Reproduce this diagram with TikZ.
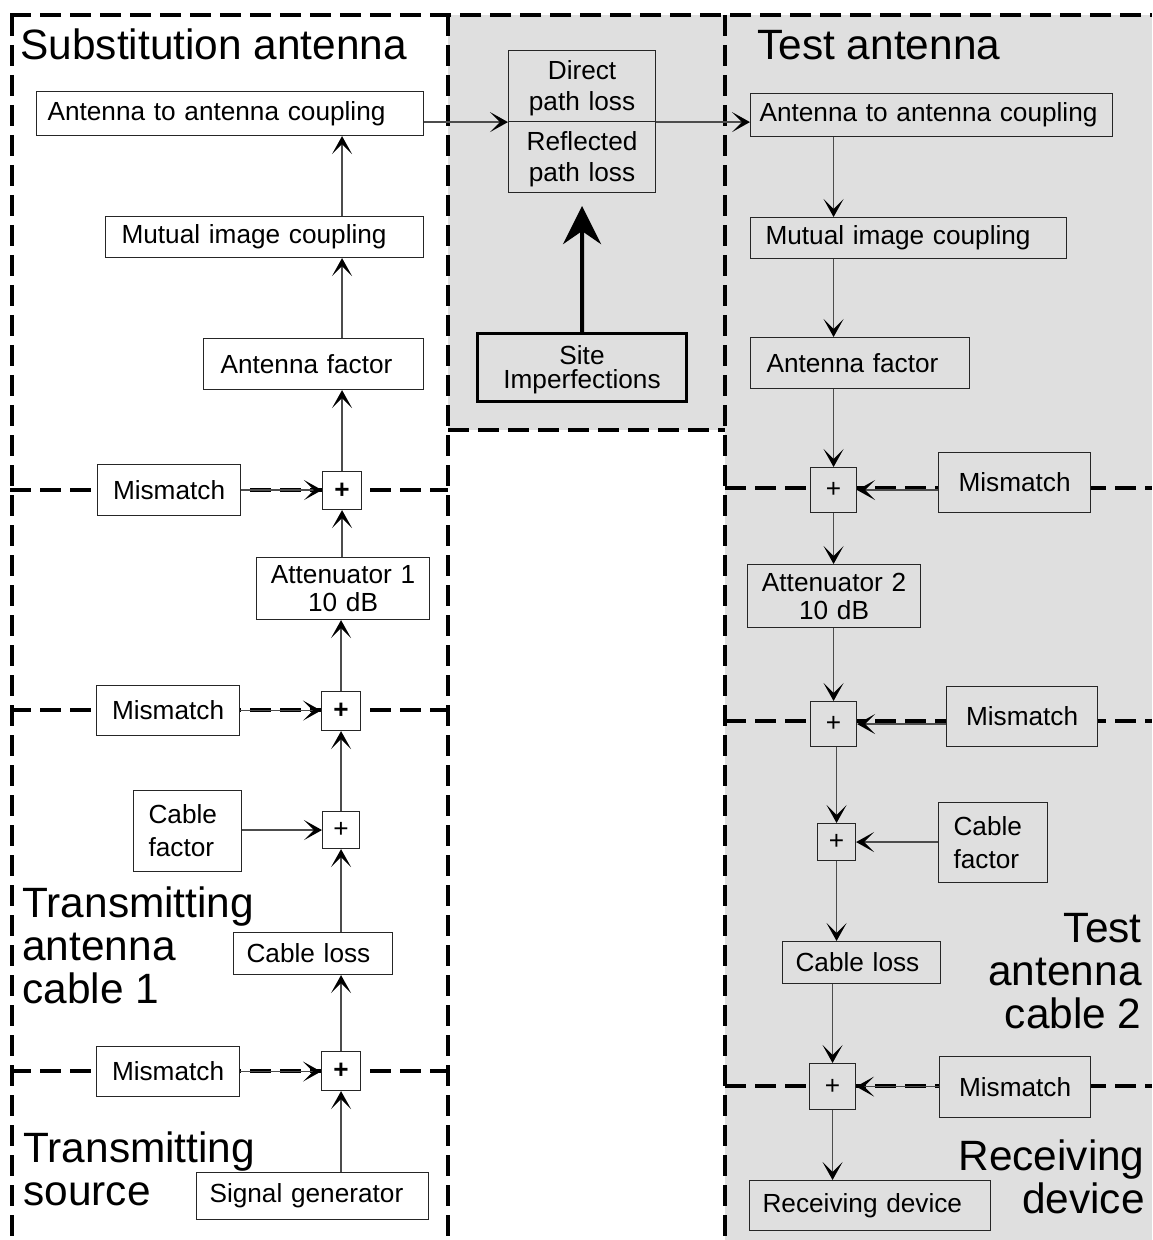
\documentclass[tikz,border=0pt]{standalone}
\usepackage{fontspec}
\setmainfont{Liberation Sans}
\usetikzlibrary{arrows.meta}
\begin{document}
\begin{tikzpicture}[x=0.5pt,y=-0.5pt,
  bx/.style={draw=black!85, line width=0.55pt, rectangle, anchor=north west, inner ysep=0pt, font=\fontsize{13.1}{15.5}\selectfont, align=left},
  ctr/.style={align=center},
  pl/.style={draw=black!85, line width=0.55pt, rectangle, anchor=north west, inner sep=0pt, font=\fontsize{13.1}{15.5}\selectfont},
  big/.style={inner sep=0pt, font=\fontsize{21.2}{21.5}\selectfont},
  dsh/.style={line width=2pt, dash pattern=on 10.5pt off 4.5pt},
  arr/.style={draw=black!70, line width=0.6pt, -{Stealth[length=9pt,width=10pt,inset=5pt,color=black,line width=0.9pt]}},
  bigarr/.style={draw=black, line width=2pt, -{Stealth[length=19pt,width=19pt,inset=6.5pt]}},
  lw/.style={fill=white},
  gr/.style={fill=gray!25}
]
\useasboundingbox (0,0) rectangle (1152,1240);
% backgrounds
\fill[gray!25] (448,15) rectangle (1152,430);
\fill[gray!25] (725,15) rectangle (1152,1240);
% dashed borders
\draw[dsh] (10,15) -- (1152,15);
\draw[dsh] (12,15) -- (12,1240);
\draw[dsh] (448,15) -- (448,1240);
\draw[dsh] (725,15) -- (725,1240);
\draw[dsh] (448,430) -- (725,430);
\draw[dsh] (10,490) -- (448,490);
\draw[dsh] (10,710) -- (448,710);
\draw[dsh] (10,1071) -- (448,1071);
\draw[dsh] (725,488) -- (1152,488);
\draw[dsh] (725,721) -- (1152,721);
\draw[dsh] (725,1086) -- (1152,1086);

% big labels
\node[big, anchor=base west] (tSub) at (20,60) {Substitution antenna};
\node[big, anchor=base west] (tTest) at (757,60) {Test antenna};
\node[big, anchor=base west, align=left] (tTAC) at (22,1003) {Transmitting\\antenna\\cable 1};
\node[big, anchor=base west, align=left] (tTS) at (23,1205) {Transmitting\\source};
\node[big, anchor=base east, align=right] (tTAC2) at (1142,1028) {Test\\antenna\\cable 2};
\node[big, anchor=base east, align=right] (tRD) at (1145,1213) {Receiving\\device};

% left column
\node[bx, lw, text width=182.5pt, inner xsep=5.5pt, minimum height=22pt] (A2AL) at (36,91) {Antenna to antenna coupling};
\node[bx, lw, text width=143pt, inner xsep=8pt, minimum height=20.5pt] (MutL) at (105,216) {Mutual image coupling};
\node[bx, lw, text width=93pt, inner xsep=8.5pt, minimum height=25.5pt] (AFL) at (203,338) {Antenna factor};
\node[pl, lw, minimum width=19.5pt, minimum height=19pt] (P1L) at (322,471) {\textbf{+}};
\node[bx, ctr, lw, text width=63.5pt, inner xsep=4pt, minimum height=25.5pt] (MisL1) at (97,464) {Mismatch};
\node[bx, ctr, lw, text width=76.5pt, inner xsep=5pt, minimum height=31pt, font=\fontsize{13.1}{14}\selectfont] (Att1) at (256,557) {Attenuator 1\\10 dB};
\node[pl, lw, minimum width=19.5pt, minimum height=19.5pt] (P2L) at (321,691) {\textbf{+}};
\node[bx, ctr, lw, text width=63.5pt, inner xsep=4pt, minimum height=25pt] (MisL2) at (96,685) {Mismatch};
\node[bx, lw, text width=39pt, inner xsep=7.5pt, minimum height=40.5pt, font=\fontsize{13.1}{16.5}\selectfont] (CFL) at (133,790) {Cable\\factor};
\node[pl, lw, minimum width=18.5pt, minimum height=18.5pt] (P3L) at (322,811) {+};
\node[bx, lw, text width=66.5pt, inner xsep=6.5pt, minimum height=21pt] (CLL) at (233,932) {Cable loss};
\node[pl, lw, minimum width=19.5pt, minimum height=19.5pt] (P4L) at (321,1051) {\textbf{+}};
\node[bx, ctr, lw, text width=63.5pt, inner xsep=4pt, minimum height=25pt] (MisL3) at (96,1046) {Mismatch};
\node[bx, lw, text width=103pt, inner xsep=6.5pt, minimum height=23.5pt] (SG) at (196,1172) {Signal generator};

% middle
\node[bx, ctr, gr, text width=63.5pt, inner xsep=5pt, minimum height=35.5pt] (DPL) at (508,50) {\rule{0pt}{12pt}Direct\\path loss};
\node[bx, ctr, gr, text width=63.5pt, inner xsep=5pt, minimum height=35.5pt] (RPL) at (508,121) {\rule{0pt}{12pt}Reflected\\path loss};
\node[bx, ctr, gr, draw=black, line width=1.5pt, text width=94.5pt, inner xsep=5pt, minimum height=34pt, font=\fontsize{13.1}{12}\selectfont] (SI) at (476,332) {\rule{0pt}{12pt}Site\\Imperfections};

% right column
\node[bx, gr, text width=172pt, inner xsep=4.5pt, minimum height=21.5pt] (A2AR) at (750,93) {Antenna to antenna coupling};
\node[bx, gr, text width=143pt, inner xsep=7.5pt, minimum height=20.5pt] (MutR) at (750,217) {Mutual image coupling};
\node[bx, gr, text width=93.5pt, inner xsep=8pt, minimum height=25.5pt] (AFR) at (750,337) {Antenna factor};
\node[pl, gr, minimum width=23pt, minimum height=22.5pt] (P1R) at (810,467) {+};
\node[bx, ctr, gr, text width=68pt, inner xsep=4pt, minimum height=30pt] (MisR1) at (938,452) {Mismatch};
\node[bx, ctr, gr, text width=76.5pt, inner xsep=5pt, minimum height=31.5pt, font=\fontsize{13.1}{14}\selectfont] (Att2) at (747,564) {Attenuator 2\\10 dB};
\node[pl, gr, minimum width=23pt, minimum height=22.5pt] (P2R) at (810,701) {+};
\node[bx, ctr, gr, text width=67.5pt, inner xsep=4pt, minimum height=30pt] (MisR2) at (946,686) {Mismatch};
\node[pl, gr, minimum width=19pt, minimum height=18.5pt] (P3R) at (817,823) {+};
\node[bx, gr, text width=39.5pt, inner xsep=7.5pt, minimum height=40pt, font=\fontsize{13.1}{16.5}\selectfont] (CFR) at (938,802) {Cable\\factor};
\node[bx, gr, text width=66pt, inner xsep=6.5pt, minimum height=21pt] (CLR) at (782,941) {Cable loss};
\node[pl, gr, minimum width=23pt, minimum height=23pt] (P4R) at (809,1063) {+};
\node[bx, ctr, gr, text width=67.5pt, inner xsep=4pt, minimum height=30.5pt] (MisR3) at (939,1056) {Mismatch};
\node[bx, gr, text width=107.5pt, inner xsep=6.5pt, minimum height=25pt] (RD) at (749,1180) {Receiving device};

% left connectors (upward)
\draw[arr] (SG.north -| P4L) -- (P4L.south);
\draw[arr] (P4L.north) -- (P4L |- CLL.south);
\draw[arr] (CLL.north -| P3L) -- (P3L.south);
\draw[arr] (P3L.north) -- (P3L |- P2L.south);
\draw[arr] (P2L.north) -- (P2L |- Att1.south);
\draw[arr] (Att1.north -| P1L) -- (P1L.south);
\draw[arr] (P1L.north) -- (P1L |- AFL.south);
\draw[arr] (AFL.north -| P1L) -- (P1L |- MutL.south);
\draw[arr] (MutL.north -| P1L) -- (P1L |- A2AL.south);
\draw[arr] (MisL1.east) -- (MisL1.east -| P1L.west);
\draw[arr] (MisL2.east) -- (MisL2.east -| P2L.west);
\draw[arr] (MisL3.east) -- (MisL3.east -| P4L.west);
\draw[arr] (CFL.east |- P3L) -- (P3L.west);

% middle connectors
\draw[arr] (A2AL.east |- DPL.south) -- (DPL.south west);
\draw[arr] (DPL.south east) -- (A2AR.west |- DPL.south);
\draw[bigarr, shorten >=6.5pt] (SI.north) -- (RPL.south);

% right connectors (downward)
\draw[arr] (A2AR.south -| P1R) -- (P1R |- MutR.north);
\draw[arr] (MutR.south -| P1R) -- (P1R |- AFR.north);
\draw[arr] (AFR.south -| P1R) -- (P1R.north);
\draw[arr] (P1R.south) -- (P1R |- Att2.north);
\draw[arr] (Att2.south -| P2R) -- (P2R.north);
\draw[arr] (P2R.south -| P3R) -- (P3R.north);
\draw[arr] (P3R.south) -- (P3R |- CLR.north);
\draw[arr] (CLR.south -| P4R) -- (P4R.north);
\draw[arr] (P4R.south) -- (P4R |- RD.north);
\draw[arr] (MisR1.west |- P1R) -- (P1R.east);
\draw[arr] (MisR2.west |- P2R) -- (P2R.east);
\draw[arr] (CFR.west |- P3R) -- (P3R.east);
\draw[arr] (MisR3.west |- P4R) -- (P4R.east);
\end{tikzpicture}
\end{document}
